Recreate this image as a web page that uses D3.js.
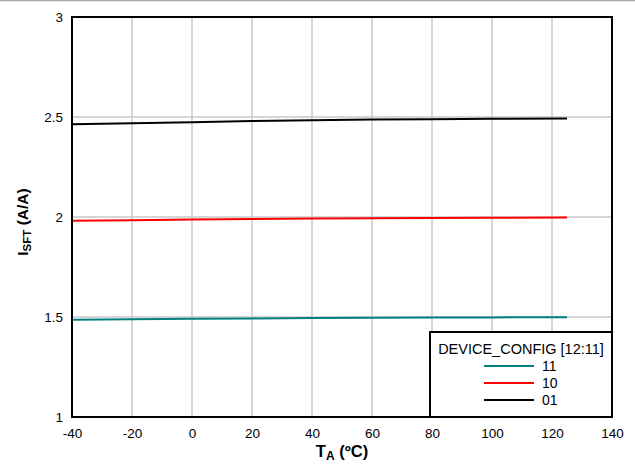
<!DOCTYPE html>
<html><head><meta charset="utf-8">
<script src="https://cdn.jsdelivr.net/npm/d3@7"></script>
<style>body{margin:0;background:#fff}svg{display:block;font-family:"Liberation Sans",Arial,sans-serif}</style>
</head><body><svg id="c" width="635" height="469"></svg>
<script>
const temps = [-40, -20, 0, 20, 40, 60, 80, 100, 125];
const cfg11 = [1.486, 1.489, 1.491, 1.493, 1.495, 1.496, 1.497, 1.498, 1.499];
const cfg10 = [1.981, 1.984, 1.987, 1.990, 1.992, 1.994, 1.995, 1.996, 1.997];
const cfg01 = [2.464, 2.469, 2.474, 2.480, 2.484, 2.487, 2.489, 2.491, 2.493];
const xTicks = [-40, -20, 0, 20, 40, 60, 80, 100, 120, 140];
const yTicks = [1, 1.5, 2, 2.5, 3];
const seriesNames = ["11", "10", "01"];
const seriesColors = ["#008080", "#ff0000", "#000000"];
const seriesData = [cfg11, cfg10, cfg01];

const svg = d3.select("#c");
const L = 72, R = 612, T = 17, B = 417;
const x = d3.scaleLinear().domain([-40, 140]).range([L, R]);
const y = d3.scaleLinear().domain([1, 3]).range([B, T]);

svg.append("line").attr("x1",0).attr("x2",635).attr("y1",0.5).attr("y2",0.5).attr("stroke","#aaa").attr("stroke-width",1.5);

const g = svg.append("g");
g.selectAll(".vg").data(xTicks.slice(1,-1)).enter().append("line")
 .attr("x1",d=>x(d)).attr("x2",d=>x(d)).attr("y1",T).attr("y2",B)
 .attr("stroke","#c8c8c8").attr("stroke-width",1.5);
g.selectAll(".hg").data(yTicks.slice(1,-1)).enter().append("line")
 .attr("x1",L).attr("x2",R).attr("y1",d=>y(d)).attr("y2",d=>y(d))
 .attr("stroke","#c8c8c8").attr("stroke-width",1.5);

const line = d3.line().x((d,i)=>x(temps[i])).y(d=>y(d));
seriesData.forEach((s,k)=>{
  g.append("path").datum(s).attr("d",line).attr("fill","none")
   .attr("stroke",seriesColors[k]).attr("stroke-width",2);
});

g.append("rect").attr("x",L).attr("y",T).attr("width",R-L).attr("height",B-T)
 .attr("fill","none").attr("stroke","#000").attr("stroke-width",2);

const xAxis = d3.axisBottom(x).tickValues(xTicks).tickSize(0).tickPadding(11).tickFormat(d=>String(d));
const xg = svg.append("g").attr("transform",`translate(0,${B})`).call(xAxis);
xg.select(".domain").remove();
xg.selectAll("text").attr("font-size",13.5).attr("fill","#000").attr("font-family","Liberation Sans, Arial, sans-serif");

const yAxis = d3.axisLeft(y).tickValues(yTicks).tickSize(0).tickPadding(9).tickFormat(d=>String(d));
const yg = svg.append("g").attr("transform",`translate(${L},0)`).call(yAxis);
yg.select(".domain").remove();
yg.selectAll("text").attr("font-size",13.5).attr("fill","#000").attr("font-family","Liberation Sans, Arial, sans-serif");

const xt = svg.append("text").attr("x",x(50)).attr("y",457).attr("text-anchor","middle")
 .attr("font-weight","bold").attr("font-size",16.5);
xt.append("tspan").text("T");
xt.append("tspan").attr("font-size",12).attr("dy",3).text("A");
xt.append("tspan").attr("dy",-3).text(" (ºC)");

const yt = svg.append("text").attr("transform",`translate(28,222) rotate(-90)`)
 .attr("text-anchor","middle").attr("font-weight","bold").attr("font-size",15.5);
yt.append("tspan").text("I");
yt.append("tspan").attr("font-size",11.5).attr("dy",3).text("SFT");
yt.append("tspan").attr("dy",-3).text(" (A/A)");

const lg = svg.append("g");
lg.append("rect").attr("x",430).attr("y",332).attr("width",182).attr("height",85)
 .attr("fill","#fff").attr("stroke","#000").attr("stroke-width",2);
lg.append("text").attr("x",521).attr("y",354).attr("text-anchor","middle").attr("font-size",14.5).text("DEVICE_CONFIG [12:11]");
seriesNames.forEach((n,k)=>{
  const yy = 366 + k*17;
  lg.append("line").attr("x1",484).attr("x2",534).attr("y1",yy).attr("y2",yy)
    .attr("stroke",seriesColors[k]).attr("stroke-width",2);
  lg.append("text").attr("x",542).attr("y",yy+5).attr("font-size",14).text(n);
});
</script></body></html>
